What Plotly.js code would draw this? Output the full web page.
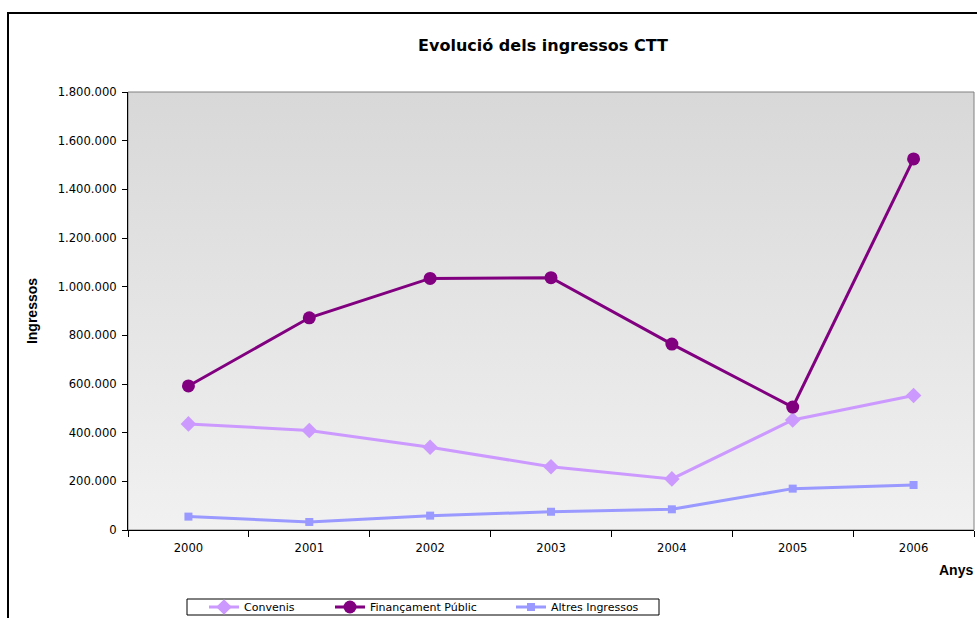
<!DOCTYPE html>
<html>
<head>
<meta charset="utf-8">
<script src="https://cdn.plot.ly/plotly-3.0.1.min.js"></script>
<style>
  html, body { margin: 0; padding: 0; background: #ffffff; }
  #chart { width: 977px; height: 618px; }
</style>
</head>
<body>
<div id="chart"></div>
<script>
const years = ["2000", "2001", "2002", "2003", "2004", "2005", "2006"];
const convenis = [436000, 409000, 340000, 260000, 210000, 452000, 553000];
const financament = [592000, 872000, 1034000, 1037000, 764000, 505000, 1525000];
const altres = [55000, 33000, 59000, 75000, 85000, 170000, 185000];
const seriesNames = ["Convenis", "Finançament Públic", "Altres Ingressos"];

const L = 128, R = 974, T = 92, B = 530, W = 977, H = 618;
const px2x = p => (p - L) / (R - L);
const py2y = p => (B - p) / (B - T);

const gradSvg = '<svg xmlns="http://www.w3.org/2000/svg" width="100" height="100" preserveAspectRatio="none">' +
  '<defs><linearGradient id="g" x1="0" y1="0" x2="0" y2="1">' +
  '<stop offset="0" stop-color="#d8d8d8"/><stop offset="1" stop-color="#f1f1f1"/>' +
  '</linearGradient></defs><rect width="100" height="100" fill="url(#g)"/></svg>';
const gradSrc = 'data:image/svg+xml;base64,' + btoa(gradSvg);

const tickFont = { family: 'DejaVu Sans, Verdana, sans-serif', size: 11.6, color: '#000000' };

const traces = [
  {
    x: years, y: convenis, name: seriesNames[0], type: 'scatter', mode: 'lines+markers',
    line: { color: '#CC99FF', width: 3 },
    marker: { symbol: 'diamond', size: 12, color: '#CC99FF' },
    legend: 'legend', showlegend: true
  },
  {
    x: years, y: financament, name: seriesNames[1], type: 'scatter', mode: 'lines+markers',
    line: { color: '#800080', width: 3 },
    marker: { symbol: 'circle', size: 13, color: '#800080' },
    legend: 'legend2', showlegend: true
  },
  {
    x: years, y: altres, name: seriesNames[2], type: 'scatter', mode: 'lines+markers',
    line: { color: '#9999FF', width: 3 },
    marker: { symbol: 'square', size: 8, color: '#9999FF' },
    legend: 'legend3', showlegend: true
  }
];

const legendBase = {
  orientation: 'h', xanchor: 'left', yanchor: 'middle',
  xref: 'paper', yref: 'paper',
  bgcolor: 'rgba(0,0,0,0)', borderwidth: 0, itemwidth: 30,
  font: { family: 'DejaVu Sans, Verdana, sans-serif', size: 11, color: '#000000' }
};

const layout = {
  width: W, height: H,
  margin: { l: L, r: W - R, t: T, b: H - B, pad: 0, autoexpand: false },
  paper_bgcolor: 'rgba(0,0,0,0)',
  plot_bgcolor: 'rgba(0,0,0,0)',
  separators: ',.',
  hovermode: false,
  showlegend: true,
  title: {
    text: 'Evolució dels ingressos CTT',
    font: { family: 'DejaVu Sans, Verdana, sans-serif', size: 16, color: '#000000', weight: 'bold' },
    xref: 'paper', x: px2x(543), xanchor: 'center',
    yref: 'container', y: 1 - 45 / H, yanchor: 'middle'
  },
  xaxis: {
    type: 'category',
    range: [-0.5, 6.5],
    showgrid: false, zeroline: false,
    showline: true, linecolor: '#000000', linewidth: 1,
    ticks: 'outside', ticklen: 6, tickcolor: '#000000', tickwidth: 1,
    tickson: 'boundaries',
    ticklabelstandoff: 7,
    tickfont: tickFont,
    fixedrange: true
  },
  yaxis: {
    range: [0, 1800000],
    dtick: 200000, tick0: 0,
    tickformat: ',d',
    showgrid: false, zeroline: false,
    showline: true, linecolor: '#000000', linewidth: 1,
    ticks: 'outside', ticklen: 5, tickcolor: '#000000', tickwidth: 1,
    ticklabelstandoff: 3,
    tickfont: tickFont,
    title: {
      text: 'Ingressos',
      font: { family: 'Liberation Sans, Arial, sans-serif', size: 14, color: '#000000', weight: 'bold' },
      standoff: 16
    },
    fixedrange: true
  },
  legend: Object.assign({}, legendBase, { x: px2x(204), y: py2y(607) }),
  legend2: Object.assign({}, legendBase, { x: px2x(330), y: py2y(607) }),
  legend3: Object.assign({}, legendBase, { x: px2x(511), y: py2y(607) }),
  images: [{
    source: gradSrc, xref: 'paper', yref: 'paper',
    x: 0, y: 1, sizex: 1, sizey: 1, xanchor: 'left', yanchor: 'top',
    sizing: 'stretch', layer: 'below'
  }],
  shapes: [
    { type: 'rect', xref: 'paper', yref: 'paper', x0: 0, x1: 1, y0: 0, y1: 1,
      line: { color: '#808080', width: 1 }, fillcolor: 'rgba(0,0,0,0)', layer: 'below' },
    { type: 'rect', xref: 'paper', yref: 'paper',
      x0: px2x(187), x1: px2x(659), y0: py2y(615), y1: py2y(599),
      line: { color: '#000000', width: 1 }, fillcolor: 'rgba(0,0,0,0)', layer: 'above' },
    { type: 'line', xref: 'paper', yref: 'paper',
      x0: px2x(8), x1: px2x(8), y0: py2y(640), y1: py2y(13),
      line: { color: '#000000', width: 2 } },
    { type: 'line', xref: 'paper', yref: 'paper',
      x0: px2x(7), x1: px2x(1000), y0: py2y(13), y1: py2y(13),
      line: { color: '#000000', width: 2 } }
  ],
  annotations: [{
    text: 'Anys', showarrow: false,
    xref: 'paper', yref: 'paper', x: px2x(975), xanchor: 'right',
    y: py2y(570), yanchor: 'middle',
    font: { family: 'Liberation Sans, Arial, sans-serif', size: 14, color: '#000000', weight: 'bold' }
  }]
};

Plotly.newPlot('chart', traces, layout, { displayModeBar: false, staticPlot: true });
</script>
</body>
</html>
